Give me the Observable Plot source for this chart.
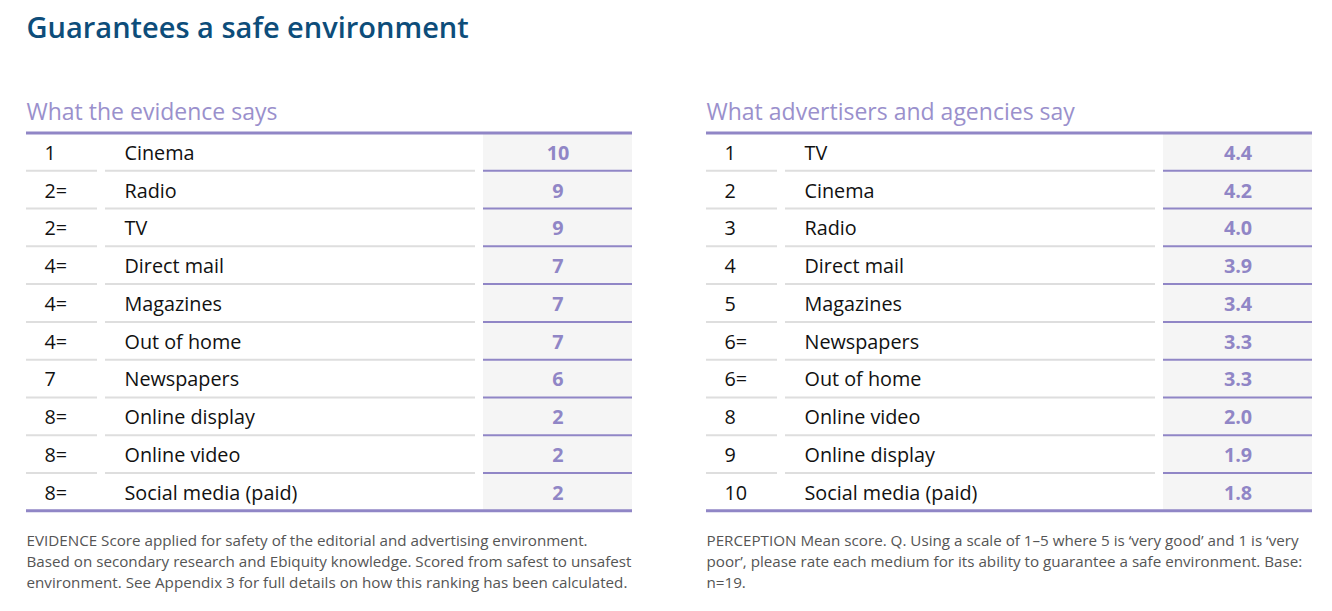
<!DOCTYPE html>
<html>
<head>
<meta charset="utf-8">
<script src="https://cdn.jsdelivr.net/npm/d3@7"></script>
<script src="https://cdn.jsdelivr.net/npm/@observablehq/plot@0.6"></script>
<style>
  html, body { margin: 0; padding: 0; background: #fff; }
  #chart { width: 1332px; height: 611px; }
</style>
</head>
<body>
<div id="chart"></div>
<script>
// ---- Data ----
const tableKeys = ["evidence", "perception"];
const titleText = "Guarantees a safe environment";
const subheads = ["What the evidence says", "What advertisers and agencies say"];
const footnotes = [
  "EVIDENCE Score applied for safety of the editorial and advertising environment.\nBased on secondary research and Ebiquity knowledge. Scored from safest to unsafest\nenvironment. See Appendix 3 for full details on how this ranking has been calculated.",
  "PERCEPTION Mean score. Q. Using a scale of 1\u20135 where 5 is \u2018very good\u2019 and 1 is \u2018very\npoor\u2019, please rate each medium for its ability to guarantee a safe environment. Base:\nn=19."
];

const evidenceRanks = ["1", "2=", "2=", "4=", "4=", "4=", "7", "8=", "8=", "8="];
const evidenceMedia = ["Cinema", "Radio", "TV", "Direct mail", "Magazines", "Out of home", "Newspapers", "Online display", "Online video", "Social media (paid)"];
const evidenceScores = [10, 9, 9, 7, 7, 7, 6, 2, 2, 2];

const perceptionRanks = ["1", "2", "3", "4", "5", "6=", "6=", "8", "9", "10"];
const perceptionMedia = ["TV", "Cinema", "Radio", "Direct mail", "Magazines", "Newspapers", "Out of home", "Online video", "Online display", "Social media (paid)"];
const perceptionScores = [4.4, 4.2, 4.0, 3.9, 3.4, 3.3, 3.3, 2.0, 1.9, 1.8];

// ---- Build tables ----
const rows = [
  ...evidenceMedia.map((m, i) => ({table: "evidence", i, rank: evidenceRanks[i], medium: m, label: String(evidenceScores[i])})),
  ...perceptionMedia.map((m, i) => ({table: "perception", i, rank: perceptionRanks[i], medium: m, label: perceptionScores[i].toFixed(1)}))
];
const nRows = evidenceMedia.length;
const tables = tableKeys.map((k, j) => ({table: k, subhead: subheads[j], note: footnotes[j]}));
const titleRow = [{table: "evidence", t: titleText}];

// ---- Layout (column geometry within one table, px) ----
const TW = 606;
const COL = {rank: [0, 71], name: [79, 449], val: [457, 606], rankX: 18, nameX: 98, valX: 531.5};
const PURPLE = "#9086c6";
const PURPLE_TXT = "#9a90cc";
const GREY = "#dedede";
const FONT = "'Open Sans', Lato, sans-serif";
const inner = rows.filter(d => d.i < nRows - 1);

const chart = Plot.plot({
  width: 1332,
  height: 611,
  marginTop: 132.5,
  marginBottom: 100.7,
  marginLeft: 26,
  marginRight: 20,
  style: {fontFamily: FONT, background: "#fff"},
  fx: {domain: tableKeys, paddingInner: 74 / 680, paddingOuter: 0, round: false, axis: null, label: null},
  x: {domain: [0, TW], axis: null},
  y: {domain: [0, nRows], reverse: true, axis: null},
  marks: [
    // value column background
    Plot.rect(rows, {fx: "table", x1: COL.val[0], x2: COL.val[1], y1: "i", y2: d => d.i + 1, fill: "#f5f5f5"}),
    // row separators
    Plot.ruleY(inner, {fx: "table", y: d => d.i + 1, x1: COL.rank[0], x2: COL.rank[1], stroke: GREY, strokeWidth: 2}),
    Plot.ruleY(inner, {fx: "table", y: d => d.i + 1, x1: COL.name[0], x2: COL.name[1], stroke: GREY, strokeWidth: 2}),
    Plot.ruleY(inner, {fx: "table", y: d => d.i + 1, x1: COL.val[0], x2: COL.val[1], stroke: PURPLE, strokeWidth: 2}),
    // top and bottom lines
    Plot.ruleY(tables, {fx: "table", y: 0, x1: 0, x2: TW, stroke: PURPLE, strokeWidth: 3}),
    Plot.ruleY(tables, {fx: "table", y: nRows, x1: 0, x2: TW, stroke: PURPLE, strokeWidth: 3}),
    // cell texts
    Plot.text(rows, {fx: "table", x: COL.rankX, y: d => d.i + 0.5, text: "rank", textAnchor: "start", dy: 1.5, fontSize: 19.8, fill: "#111"}),
    Plot.text(rows, {fx: "table", x: COL.nameX, y: d => d.i + 0.5, text: "medium", textAnchor: "start", dy: 1.5, fontSize: 19.8, fill: "#111"}),
    Plot.text(rows, {fx: "table", x: COL.valX, y: d => d.i + 0.5, text: "label", textAnchor: "middle", dy: 1.5, fontSize: 19.8, fontWeight: 700, fill: PURPLE}),
    // subheads
    Plot.text(tables, {fx: "table", frameAnchor: "top-left", text: "subhead", textAnchor: "start", lineAnchor: "middle", dy: -20, fontSize: 23, fontWeight: 500, fill: PURPLE_TXT}),
    // footnotes
    Plot.text(tables, {fx: "table", frameAnchor: "bottom-left", text: "note", textAnchor: "start", lineAnchor: "top", dy: 20, fontSize: 15.2, lineHeight: 1.38, fill: "#555"}),
    // title
    Plot.text(titleRow, {fx: "table", frameAnchor: "top-left", text: "t", textAnchor: "start", lineAnchor: "middle", dy: -104, fontSize: 29, fontWeight: 600, fill: "#0d4d7a"})
  ]
});
document.getElementById("chart").appendChild(chart);
</script>
</body>
</html>
